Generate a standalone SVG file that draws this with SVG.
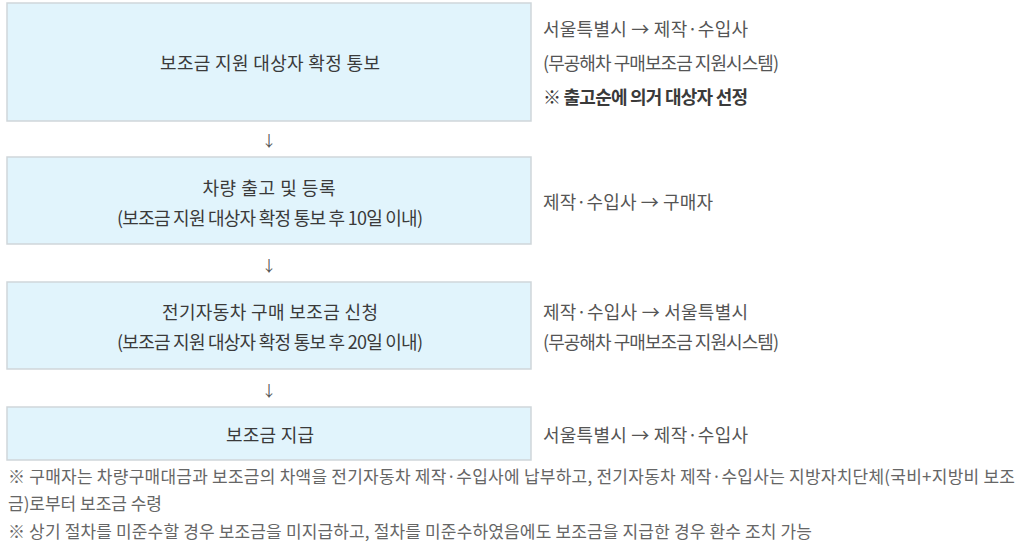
<svg xmlns="http://www.w3.org/2000/svg" width="1024" height="552" viewBox="0 0 1024 552">
<style>
text{font-family:"Noto Sans CJK KR","Noto Sans",sans-serif;dominant-baseline:central}
.box{fill:#e1f4fc;stroke:#cfd6da;stroke-width:1.5}
.main{font-size:18px;fill:#3a3a3a;text-anchor:middle}
.side{font-size:18px;fill:#555}
.bold{font-weight:bold;fill:#3a3a3a}
.note{font-size:17px;fill:#666}
.arr{font-size:15px;fill:#555;text-anchor:middle}
</style>
<rect width="1024" height="552" fill="#fff"/>
<g id="node1">
<rect class="box" x="7" y="3" width="524" height="118"/>
<text class="main" x="270" y="62" textLength="220" lengthAdjust="spacing">보조금 지원 대상자 확정 통보</text>
<text class="side" x="543" y="28" textLength="205" lengthAdjust="spacing">서울특별시 → 제작·수입사</text>
<text class="side" x="543" y="62" textLength="236" lengthAdjust="spacing">(무공해차 구매보조금 지원시스템)</text>
<text class="side bold" x="543" y="96" textLength="205" lengthAdjust="spacing">※ 출고순에 의거 대상자 선정</text>
</g>
<g id="node2">
<rect class="box" x="7" y="157" width="524" height="87"/>
<text class="main" x="269" y="187" textLength="133" lengthAdjust="spacing">차량 출고 및 등록</text>
<text class="main" x="270" y="217" textLength="306" lengthAdjust="spacing">(보조금 지원 대상자 확정 통보 후 10일 이내)</text>
<text class="side" x="543" y="201" textLength="170" lengthAdjust="spacing">제작·수입사 → 구매자</text>
</g>
<g id="node3">
<rect class="box" x="7" y="282" width="524" height="87"/>
<text class="main" x="270" y="311" textLength="216" lengthAdjust="spacing">전기자동차 구매 보조금 신청</text>
<text class="main" x="270" y="341" textLength="306" lengthAdjust="spacing">(보조금 지원 대상자 확정 통보 후 20일 이내)</text>
<text class="side" x="543" y="311" textLength="205" lengthAdjust="spacing">제작·수입사 → 서울특별시</text>
<text class="side" x="543" y="341" textLength="236" lengthAdjust="spacing">(무공해차 구매보조금 지원시스템)</text>
</g>
<g id="node4">
<rect class="box" x="7" y="407" width="524" height="53"/>
<text class="main" x="270" y="434" textLength="88" lengthAdjust="spacing">보조금 지급</text>
<text class="side" x="543" y="434" textLength="205" lengthAdjust="spacing">서울특별시 → 제작·수입사</text>
</g>
<g id="connectors">
<text class="arr" x="269" y="139">↓</text>
<text class="arr" x="269" y="264">↓</text>
<text class="arr" x="269" y="389">↓</text>
</g>
<g id="notes">
<text class="note" x="8" y="475" textLength="1007" lengthAdjust="spacing">※  구매자는 차량구매대금과 보조금의 차액을 전기자동차 제작·수입사에 납부하고, 전기자동차 제작·수입사는 지방자치단체(국비+지방비 보조</text>
<text class="note" x="8" y="502" textLength="154" lengthAdjust="spacing">금)로부터 보조금 수령</text>
<text class="note" x="8" y="530" textLength="804" lengthAdjust="spacing">※ 상기 절차를 미준수할 경우 보조금을 미지급하고, 절차를 미준수하였음에도 보조금을 지급한 경우 환수 조치 가능</text>
</g>
</svg>
